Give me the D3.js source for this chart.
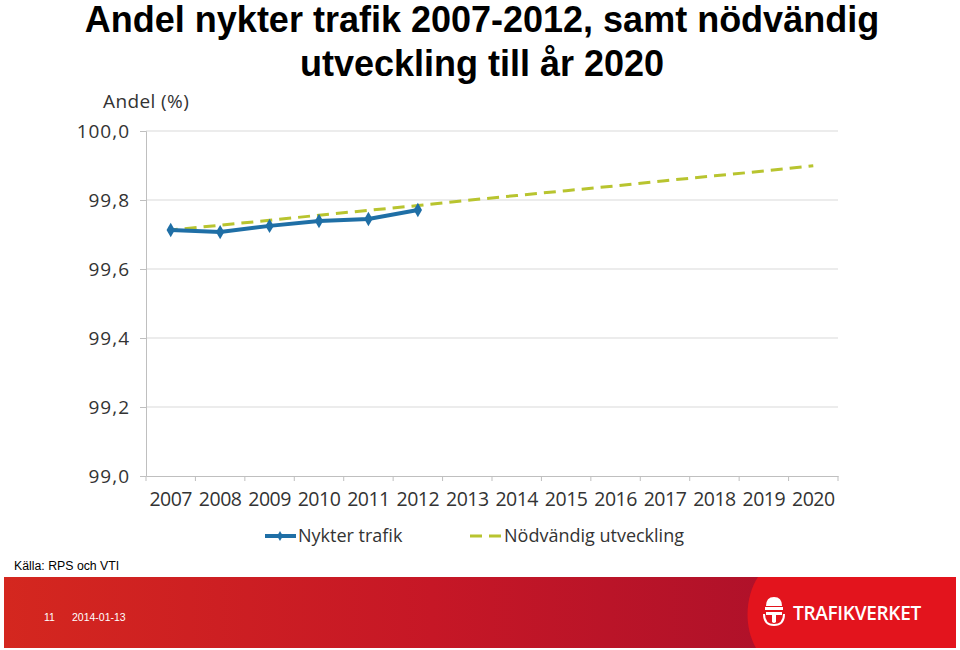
<!DOCTYPE html>
<html><head><meta charset="utf-8">
<script src="https://cdn.jsdelivr.net/npm/d3@7"></script>
<style>
body{margin:0;background:#fff;}
svg{display:block;}
</style></head><body>
<svg id="c" width="960" height="650"></svg>
<script>
const years = ["2007","2008","2009","2010","2011","2012","2013","2014","2015","2016","2017","2018","2019","2020"];
const nykterYears = ["2007","2008","2009","2010","2011","2012"];
const nykterValues = [99.713, 99.707, 99.725, 99.739, 99.745, 99.771];
const nodvValues = [99.713, 99.727, 99.741, 99.756, 99.770, 99.784, 99.799, 99.813, 99.827, 99.841, 99.856, 99.870, 99.884, 99.899];
const yTicks = [99.0, 99.2, 99.4, 99.6, 99.8, 100.0];
const titleLines = ["Andel nykter trafik 2007-2012, samt nödvändig", "utveckling till år 2020"];

(function(){
const svg = d3.select("#c");
const pL = 146, pR = 838, pT = 131, pB = 476;
const x = d3.scaleBand().domain(years).range([pL, pR]);
const y = d3.scaleLinear().domain([99.0, 100.0]).range([pB, pT]);
const cx = d => x(d) + x.bandwidth()/2;

// Title
svg.selectAll("text.title").data(titleLines).join("text").attr("class","title")
  .attr("x", 482).attr("y", (d,i) => 32 + i*44)
  .attr("text-anchor","middle")
  .style("font-family","'Liberation Sans', Arial, sans-serif")
  .style("font-weight","bold").style("font-size","36px").attr("fill","#000")
  .text(d => d);

// gridlines
svg.append("g").selectAll("line").data(yTicks.slice(1)).join("line")
  .attr("x1", pL).attr("x2", pR)
  .attr("y1", d => y(d)).attr("y2", d => y(d))
  .attr("stroke","#d9d9d9").attr("stroke-width",1);

// y axis
const yAxis = d3.axisLeft(y).tickValues(yTicks).tickSize(6).tickPadding(10)
  .tickFormat(d => d3.format(".1f")(d).replace(".", ","));
const yg = svg.append("g").attr("transform",`translate(${pL},0)`).call(yAxis);
yg.select(".domain").attr("stroke","#bfbfbf");
yg.selectAll(".tick line").attr("stroke","#bfbfbf");
yg.selectAll(".tick text").style("font-family","'Open Sans', sans-serif").style("font-size","19px").style("letter-spacing","1px").attr("fill","#333");

// x axis
const xg = svg.append("g").attr("transform",`translate(0,${pB})`)
  .call(d3.axisBottom(x).tickSize(0).tickPadding(16));
xg.select(".domain").attr("stroke","#bfbfbf");
xg.selectAll(".tick text").style("font-family","'Open Sans', sans-serif").style("font-size","19.5px").style("letter-spacing","-0.5px").attr("fill","#333");
xg.append("g").selectAll("line").data(years.concat(["end"])).join("line")
  .attr("x1", (d,i) => i < years.length ? x(d) : pR)
  .attr("x2", (d,i) => i < years.length ? x(d) : pR)
  .attr("y1", 0).attr("y2", 5).attr("stroke","#bfbfbf");

// axis title
svg.append("text").attr("x",103).attr("y",108)
  .style("font-family","'Open Sans', sans-serif").style("font-size","19px").style("letter-spacing","0.4px").attr("fill","#333")
  .text("Andel (%)");

// dashed line
const line = d3.line().x(d => cx(d[0])).y(d => y(d[1]));
svg.append("path").datum(years.map((yr,i)=>[yr,nodvValues[i]]))
  .attr("d", line).attr("fill","none").attr("stroke","#b8c42f")
  .attr("stroke-width",3).attr("stroke-dasharray","12,7").attr("stroke-dashoffset",5);

// nykter line
const nd = nykterYears.map((yr,i)=>[yr,nykterValues[i]]);
svg.append("path").datum(nd).attr("d", line).attr("fill","none")
  .attr("stroke","#1f6fa6").attr("stroke-width",4);
svg.append("g").selectAll("path").data(nd).join("path")
  .attr("d", d3.symbol(d3.symbolDiamond, 60))
  .attr("transform", d => `translate(${cx(d[0])},${y(d[1])})`)
  .attr("fill","#1f6fa6");

// legend
const lg = svg.append("g");
lg.append("line").attr("x1",265).attr("x2",296).attr("y1",536).attr("y2",536)
  .attr("stroke","#1f6fa6").attr("stroke-width",4);
lg.append("path").attr("d", d3.symbol(d3.symbolDiamond, 30)).attr("transform","translate(280,536)").attr("fill","#1f6fa6");
lg.append("text").attr("x",298).attr("y",542).style("font-family","'Open Sans', sans-serif").style("font-size","18px").attr("fill","#333").text("Nykter trafik");
lg.append("line").attr("x1",470).attr("x2",502).attr("y1",536).attr("y2",536)
  .attr("stroke","#b8c42f").attr("stroke-width",3).attr("stroke-dasharray","12,7");
lg.append("text").attr("x",504).attr("y",542).style("font-family","'Open Sans', sans-serif").style("font-size","18px").attr("fill","#333").text("Nödvändig utveckling");

// source
svg.append("text").attr("x",14).attr("y",570)
  .style("font-family","'Liberation Sans', Arial, sans-serif").style("font-size","12.3px").attr("fill","#000")
  .text("Källa:  RPS och VTI");

// footer
const defs = svg.append("defs");
const gr = defs.append("linearGradient").attr("id","fg").attr("x1","0").attr("x2","1");
gr.append("stop").attr("offset","0%").attr("stop-color","#d4271f");
gr.append("stop").attr("offset","45%").attr("stop-color","#c61726");
gr.append("stop").attr("offset","100%").attr("stop-color","#a30e2c");
svg.append("rect").attr("x",4).attr("y",577).attr("width",952).attr("height",71).attr("fill","url(#fg)");
svg.append("path").attr("d","M758,577 C746,595 743,625 756,648 L956,648 L956,577 Z").attr("fill","#e3141d");
svg.append("text").attr("x",44).attr("y",621).style("font-family","'Liberation Sans', Arial, sans-serif").style("font-size","10.5px").attr("fill","#fff").text("11");
svg.append("text").attr("x",72).attr("y",621).style("font-family","'Liberation Sans', Arial, sans-serif").style("font-size","10.5px").attr("fill","#fff").text("2014-01-13");
// logo
const lgo = svg.append("g").attr("transform","translate(774,610)");
lgo.append("path").attr("d","M-8,-4 Q-8,-13 0,-13 Q8,-13 8,-4 Z").attr("fill","#fff");
lgo.append("rect").attr("x",-9).attr("y",-3).attr("width",18).attr("height",3).attr("fill","#fff");
lgo.append("path").attr("d","M-8,2 L8,2 L8,5 L2,5 L2,12 Q0,14 -2,12 L-2,5 L-8,5 Z").attr("fill","#fff");
lgo.append("path").attr("d","M-10,4 Q-10,15 0,15 Q10,15 10,4").attr("fill","none").attr("stroke","#fff").attr("stroke-width",2);
lgo.append("text").attr("x",19).attr("y",10).style("font-family","'Open Sans', sans-serif").style("font-weight","600").style("font-size","19px").style("letter-spacing","-0.3px").attr("fill","#fff").text("TRAFIKVERKET");
})();
</script>
</body></html>
